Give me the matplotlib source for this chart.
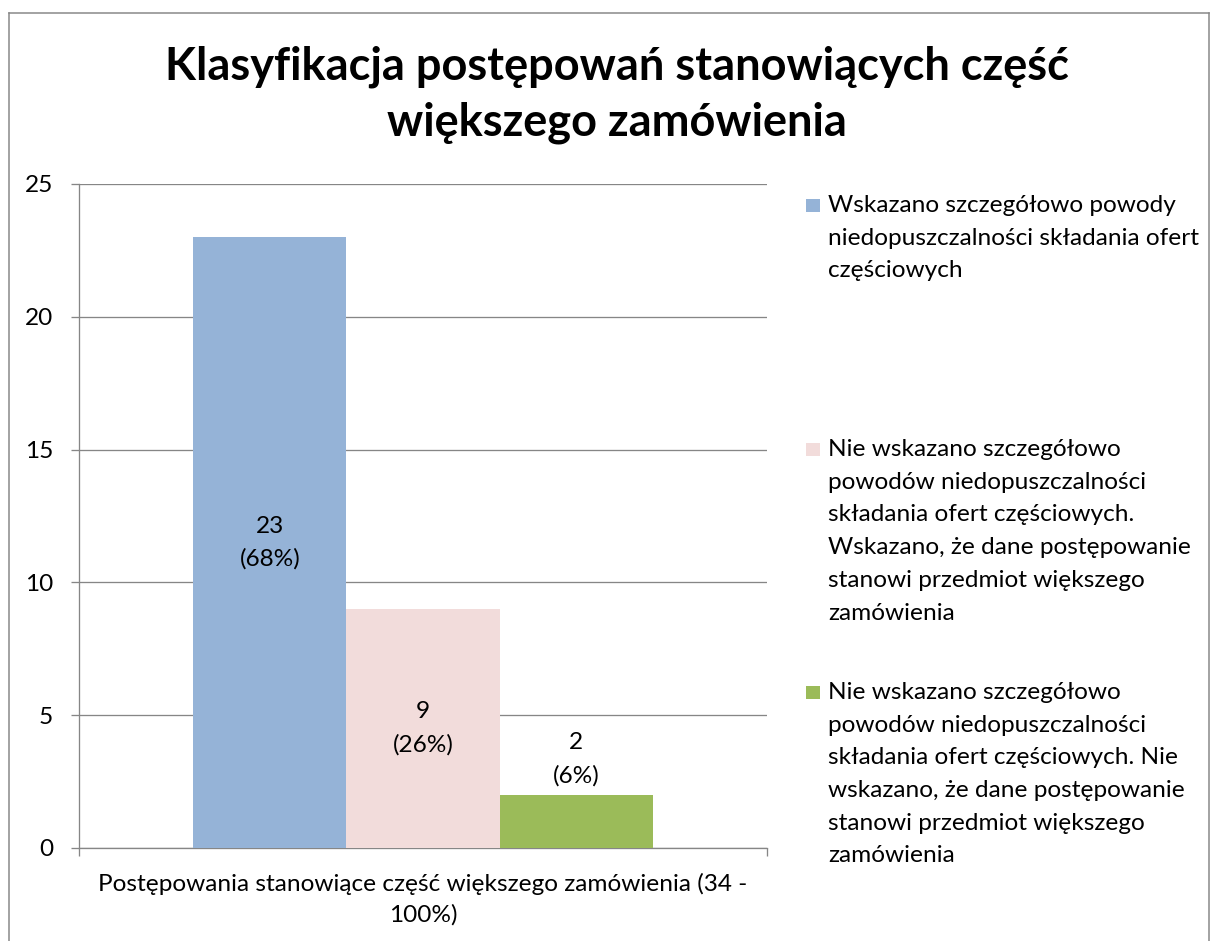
import matplotlib
matplotlib.use("Agg")
import matplotlib.pyplot as plt
from matplotlib.patches import Rectangle
from matplotlib.lines import Line2D

# ---- data ----
title_lines = ["Klasyfikacja postępowań stanowiących część", "większego zamówienia"]
category_lines = ["Postępowania stanowiące część większego zamówienia (34 -", "100%)"]
series_names = [
    ["Wskazano szczegółowo powody", "niedopuszczalności składania ofert", "częściowych"],
    ["Nie wskazano szczegółowo", "powodów niedopuszczalności", "składania ofert częściowych.",
     "Wskazano, że dane postępowanie", "stanowi przedmiot większego", "zamówienia"],
    ["Nie wskazano szczegółowo", "powodów niedopuszczalności", "składania ofert częściowych. Nie",
     "wskazano, że dane postępowanie", "stanowi przedmiot większego", "zamówienia"],
]
values = [23, 9, 2]
percents = ["68%", "26%", "6%"]
colors = ["#95B3D7", "#F2DCDB", "#9BBB59"]
yticks = [0, 5, 10, 15, 20, 25]

W, H = 1212, 941
FONT = ["Lato", "DejaVu Sans"]
FS = 17.6
GRAY = "#868686"

plt.rcParams["font.family"] = FONT

def fx(px):
    return px / W

def fy(py):
    return 1 - py / H

def pt(px):
    return px * 72 / 100.0

fig = plt.figure(figsize=(W / 100, H / 100), dpi=100)
fig.patch.set_facecolor("white")

# axes placement (pixels): left 79, right 767, top 184, bottom 848
ax = fig.add_axes([fx(79), fy(848), fx(767) - fx(79), fy(184) - fy(848)])

xs = [-1, 0, 1]
ax.bar(xs, values, width=1.0, color=colors, zorder=3, linewidth=0)
ax.set_xlim(-2.245, 2.245)
ax.set_ylim(0, 25)

ax.set_axisbelow(True)
ax.yaxis.grid(True, color=GRAY, linewidth=pt(1.3), zorder=0)
for s in ["top", "right"]:
    ax.spines[s].set_visible(False)
for s in ["left", "bottom"]:
    ax.spines[s].set_color(GRAY)
    ax.spines[s].set_linewidth(pt(1.3))

ax.set_yticks(yticks)
ax.set_yticklabels([str(v) for v in yticks])
ax.tick_params(axis="y", direction="out", length=pt(8), width=pt(1.3), color=GRAY,
               pad=pt(18), labelsize=FS, labelcolor="black")
ax.set_xticks([-2.245, 2.245])
ax.set_xticklabels(["", ""])
ax.tick_params(axis="x", direction="out", length=pt(8), width=pt(1.3), color=GRAY)

# data labels
line_gap = 33  # px between label lines
for x, v, p in zip(xs, values, percents):
    if v >= 5:
        base = (x, v / 2.0)
        offs = [line_gap / 2.0, -line_gap / 2.0]
    else:
        base = (x, v)
        offs = [52, 19]
    for txt, o in zip([str(v), "(" + p + ")"], offs):
        ax.annotate(txt, xy=base, xytext=(0, pt(o)), textcoords="offset points",
                    ha="center", va="center", fontsize=FS, color="black", zorder=4)

# category label
for i, ln in enumerate(category_lines):
    fig.text(fx(423), fy(891 + i * 31), ln, ha="center", va="baseline",
             fontsize=FS, color="black")

# title
for i, ln in enumerate(title_lines):
    fig.text(fx(617), fy(79 + i * 57), ln, ha="center", va="baseline",
             fontsize=32.5, fontweight="bold", color="black")

# legend
entry_baselines = [212, 456, 699]
leg_gap = 32.7
for name_lines, col, b in zip(series_names, colors, entry_baselines):
    fig.add_artist(Rectangle((fx(806), fy(b)), fx(820) - fx(806), fy(b - 13) - fy(b),
                             transform=fig.transFigure, facecolor=col, edgecolor="none"))
    for j, ln in enumerate(name_lines):
        fig.text(fx(828), fy(b + j * leg_gap), ln, ha="left", va="baseline",
                 fontsize=FS, color="black")

# outer border of the chart area
bc = "#868686"
fig.add_artist(Line2D([fx(9), fx(9)], [fy(13), 0], transform=fig.transFigure, color=bc, linewidth=pt(1.5)))
fig.add_artist(Line2D([fx(9), fx(1209)], [fy(13), fy(13)], transform=fig.transFigure, color=bc, linewidth=pt(1.5)))
fig.add_artist(Line2D([fx(1209), fx(1209)], [fy(13), 0], transform=fig.transFigure, color=bc, linewidth=pt(1.5)))

fig.savefig("out.png", dpi=100, facecolor="white")
